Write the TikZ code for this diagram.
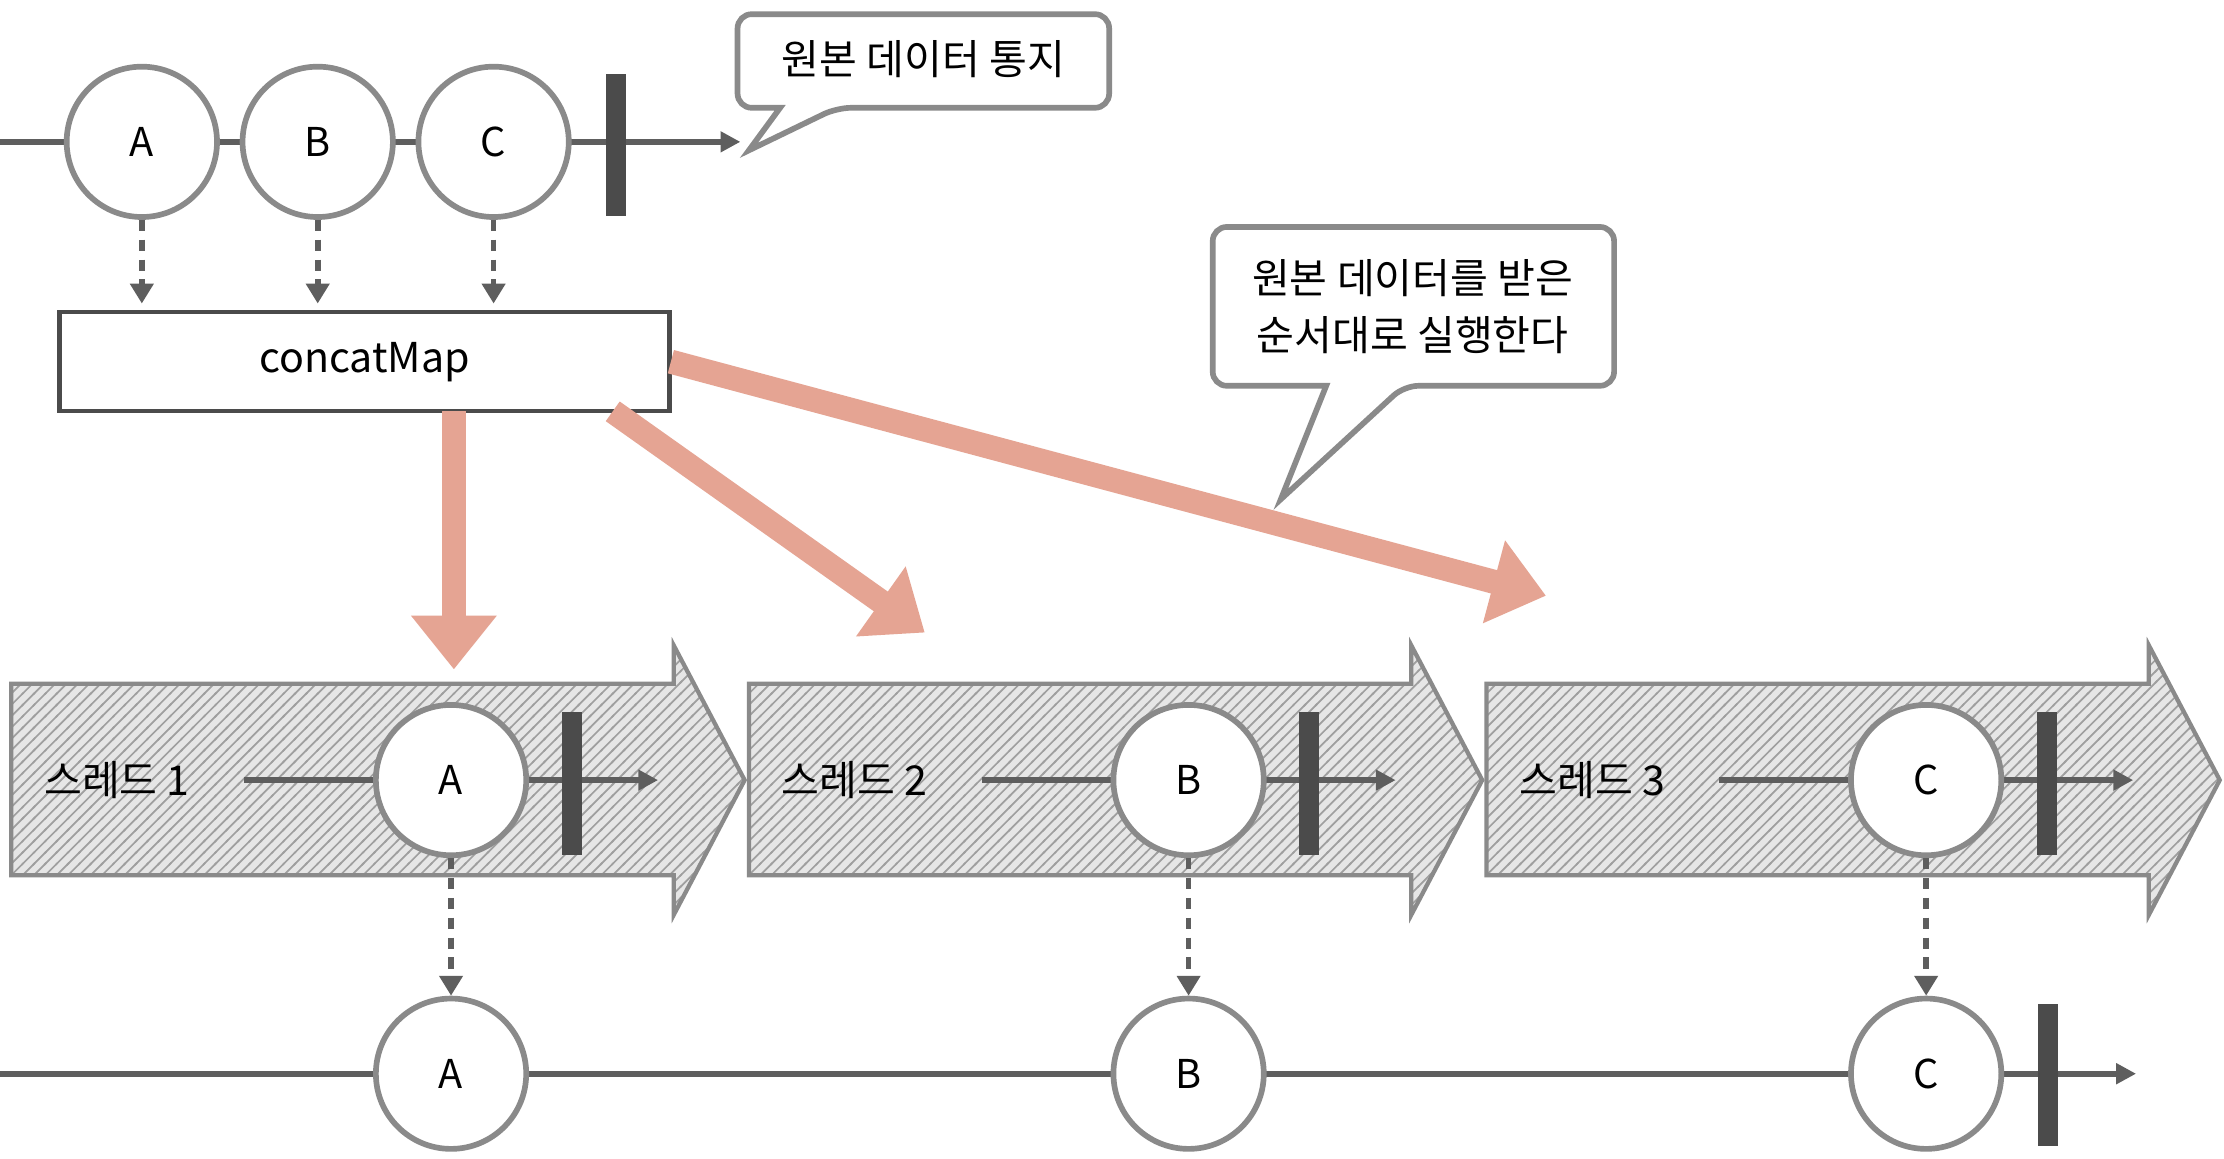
\documentclass[tikz,border=0pt]{standalone}
\usepackage{fontspec}
\setmainfont{Noto Sans CJK KR}
\usetikzlibrary{arrows.meta,patterns}
\definecolor{ln}{HTML}{5E5E5E}
\definecolor{cs}{HTML}{8A8A8A}
\definecolor{sal}{HTML}{E5A493}
\definecolor{hb}{HTML}{E6E6E6}
\pgfdeclarepatternformonly{myhatch}{\pgfqpoint{-1pt}{-1pt}}{\pgfqpoint{9pt}{9pt}}{\pgfqpoint{8pt}{8pt}}{%
  \pgfsetlinewidth{1.2pt}\pgfpathmoveto{\pgfqpoint{-1pt}{-1pt}}\pgfpathlineto{\pgfqpoint{9pt}{9pt}}\pgfusepath{stroke}}
\begin{document}
\begin{tikzpicture}[x=1pt,y=-1pt,
  ln/.style={draw=ln,line width=4pt},
  arr/.style={ln,-{Triangle[length=14pt,width=14pt]}},
  circ/.style={circle,draw=cs,line width=4pt,fill=white,minimum size=106pt,inner sep=0pt,font=\fontsize{28}{30}\selectfont},
  bar/.style={fill=ln!80!black,draw=none},
  dsh/.style={draw=ln,line width=4pt,dash pattern=on 8pt off 6pt,-{Triangle[length=14pt,width=16pt]}},
  sal/.style={draw=sal,line width=17pt,-{Triangle[length=38pt,width=58pt]}},
  callb/.style={draw=cs,line width=4pt,fill=white,rounded corners=10pt},
  ctext/.style={align=center,font=\fontsize{29}{40}\selectfont},
  lab/.style={font=\fontsize{29}{30}\selectfont,anchor=west}]
\useasboundingbox (0,0) rectangle (1568,817);
\fill[white] (0,0) rectangle (1568,817);
% top
\coordinate (t0) at (0,100); \coordinate (t1) at (522,100);
\draw[arr] (t0) -- (t1);
\node[circ] (a) at (100,100) {A};
\node[circ] (b) at (224,100) {B};
\node[circ] (c) at (348,100) {C};
\fill[bar] (427,52) rectangle (441,152);
\draw[callb] (520,10) -- (782,10) -- (782,76) -- (590,76) [sharp corners]-- (528,106) -- (550,76) [rounded corners=10pt]-- (520,76) -- cycle;
\node[ctext] (n1) at (651,42) {원본 데이터 통지};
\node[draw=ln!80!black,line width=3pt,fill=white,minimum width=430pt,minimum height=70pt,font=\fontsize{29}{30}\selectfont] (cm) at (257,255) {concatMap};
\foreach \n/\x in {a/100,b/224,c/348} \draw[dsh] (\n.south) -- (\x,214);
% hatched block arrows
\foreach \i/\o in {1/0,2/520,3/1040}{
  \begin{scope}[xshift=\o pt]
  \path[fill=hb] (8,482) -- (475,482) -- (475,455) -- (525,550) -- (475,645) -- (475,617) -- (8,617) -- cycle;
  \path[pattern=myhatch,pattern color=gray!75] (8,482) -- (475,482) -- (475,455) -- (525,550) -- (475,645) -- (475,617) -- (8,617) -- cycle;
  \draw[draw=cs,line width=3pt] (8,482) -- (475,482) -- (475,455) -- (525,550) -- (475,645) -- (475,617) -- (8,617) -- cycle;
  \node[lab,inner sep=1pt] (l\i) at (30,550) {스레드 \i};
  \coordinate (s\i) at (172,550); \coordinate (e\i) at (464,550);
  \draw[arr] (s\i) -- (e\i);
  \fill[bar] (396,502) rectangle (410,603);
  \end{scope}}
\node[circ] (ta) at (318,550) {A};
\node[circ] (tb) at (838,550) {B};
\node[circ] (tc) at (1358,550) {C};
% salmon arrows
\coordinate (p1) at (320,290); \coordinate (q1) at (320,472);
\coordinate (p2) at (432,290); \coordinate (q2) at (652,446);
\coordinate (p3) at (473,255); \coordinate (q3) at (1090,420);
\draw[sal] (p1) -- (q1);
\draw[sal] (p2) -- (q2);
\draw[sal] (p3) -- (q3);
\draw[callb] (855,160) -- (1138,160) -- (1138,272) -- (990,272) [sharp corners]-- (903,352) -- (935,272) [rounded corners=10pt]-- (855,272) -- cycle;
\node[ctext] (n2) at (996,216) {원본 데이터를 받은\\순서대로 실행한다};
% bottom
\coordinate (b0) at (0,757); \coordinate (b1) at (1506,757);
\draw[arr] (b0) -- (b1);
\node[circ] (ba) at (318,757) {A};
\node[circ] (bb) at (838,757) {B};
\node[circ] (bc) at (1358,757) {C};
\fill[bar] (1437,708) rectangle (1451,808);
\draw[dsh] (ta.south) -- (ba.north);
\draw[dsh] (tb.south) -- (bb.north);
\draw[dsh] (tc.south) -- (bc.north);
\end{tikzpicture}
\end{document}
